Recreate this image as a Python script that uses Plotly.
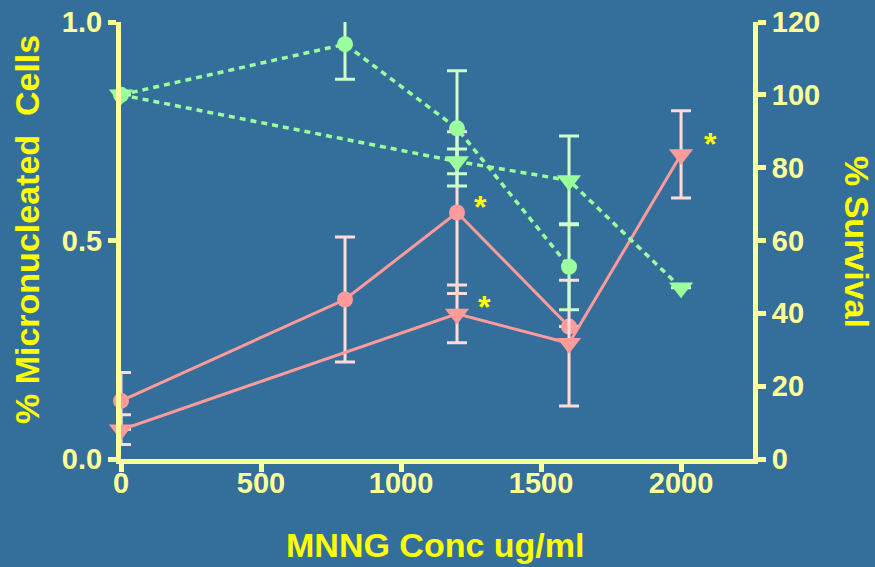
import plotly.graph_objects as go

# ---- data ----
x_circle = [0, 800, 1200, 1600]
mn_circle = [0.133, 0.365, 0.564, 0.303]
mn_circle_err = [0.065, 0.143, 0.185, 0.0]

x_tri = [0, 1200, 1600, 2000]
mn_tri = [0.067, 0.332, 0.265, 0.697]
mn_tri_err = [0.034, 0.066, 0.144, 0.100]

surv_circle = [100, 113.9, 90.8, 52.8]
surv_circle_err = [0, 9.6, 15.8, 11.8]

surv_tri = [100, 81.7, 76.5, 47]
surv_tri_err = [0, 3.4, 12.2, 0]

star_x = [1284, 1298, 2105]
star_y = [0.593, 0.364, 0.737]

x_ticks = [0, 500, 1000, 1500, 2000]
left_ticks = [0.0, 0.5, 1.0]
left_tick_text = ["0.0", "0.5", "1.0"]
right_ticks = [0, 20, 40, 60, 80, 100, 120]

BG = "#346e9b"
AXIS = "#ffff99"
TITLE = "#ffff00"
PINK = "#ff9b9b"
PINK_ERR = "#ffdcdc"
GREEN = "#9bff9b"
GREEN_ERR = "#ccffcc"
FONT = "Liberation Sans, Arial, sans-serif"

fig = go.Figure()

fig.add_trace(go.Scatter(
    x=x_circle, y=mn_circle, mode="lines+markers", yaxis="y",
    line=dict(color=PINK, width=3),
    marker=dict(symbol="circle", size=16, color=PINK),
    error_y=dict(type="data", array=mn_circle_err, color=PINK_ERR, thickness=3, width=10),
    cliponaxis=False, showlegend=False))

fig.add_trace(go.Scatter(
    x=x_tri, y=mn_tri, mode="lines+markers", yaxis="y",
    line=dict(color=PINK, width=3),
    marker=dict(symbol="triangle-down", size=21, color=PINK),
    error_y=dict(type="data", array=mn_tri_err, color=PINK_ERR, thickness=3, width=10),
    cliponaxis=False, showlegend=False))

fig.add_trace(go.Scatter(
    x=x_circle, y=surv_circle, mode="lines+markers", yaxis="y2",
    line=dict(color=GREEN, width=3.5, dash="6px,5px"),
    marker=dict(symbol="circle", size=16, color=GREEN),
    error_y=dict(type="data", array=surv_circle_err, color=GREEN_ERR, thickness=3, width=10),
    cliponaxis=False, showlegend=False))

fig.add_trace(go.Scatter(
    x=x_tri, y=surv_tri, mode="lines+markers", yaxis="y2",
    line=dict(color=GREEN, width=3.5, dash="6px,5px"),
    marker=dict(symbol="triangle-down", size=21, color=GREEN),
    error_y=dict(type="data", array=surv_tri_err, color=GREEN_ERR, thickness=3, width=10),
    cliponaxis=False, showlegend=False))

annotations = []
for sx, sy in zip(star_x, star_y):
    annotations.append(dict(x=sx, y=sy, xref="x", yref="y", text="<b>*</b>",
                            showarrow=False, font=dict(family=FONT, size=32, color=TITLE),
                            yshift=-7))

W, H = 875, 567
ML, MR, MT, MB = 121, 122, 22, 108
pw, ph = W - ML - MR, H - MT - MB

def px_to_paper(px, py):
    return (px - ML) / pw, (H - MB - py) / ph

for text, px, py, ang in [("<b>% Micronucleated  Cells</b>", 27, 230, -90),
                          ("<b>% Survival</b>", 857, 242, 90),
                          ("<b>MNNG Conc ug/ml</b>", 435, 545, 0)]:
    ax_, ay_ = px_to_paper(px, py)
    annotations.append(dict(x=ax_, y=ay_, xref="paper", yref="paper", text=text,
                            xanchor="center", yanchor="middle",
                            showarrow=False, textangle=ang,
                            font=dict(family=FONT, size=34, color=TITLE)))

tickfont = dict(family=FONT, size=29, color=AXIS, weight="bold")

fig.update_layout(
    width=W, height=H,
    margin=dict(l=ML, r=MR, t=MT, b=MB, autoexpand=False),
    paper_bgcolor=BG, plot_bgcolor=BG,
    font=dict(family=FONT),
    xaxis=dict(range=[0, 2257], tickvals=x_ticks, showgrid=False, zeroline=False,
               showline=True, linecolor=AXIS, linewidth=5,
               ticks="outside", ticklen=8, tickwidth=5, tickcolor=AXIS,
               tickfont=tickfont, ticklabelstandoff=-14),
    yaxis=dict(range=[0, 1.0], tickvals=left_ticks, ticktext=left_tick_text,
               showgrid=False, zeroline=False,
               showline=True, linecolor=AXIS, linewidth=5,
               ticks="outside", ticklen=8, tickwidth=5, tickcolor=AXIS,
               tickfont=tickfont),
    yaxis2=dict(range=[0, 120], tickvals=right_ticks, overlaying="y", side="right",
                showgrid=False, zeroline=False,
                showline=True, linecolor=AXIS, linewidth=5,
                ticks="outside", ticklen=8, tickwidth=5, tickcolor=AXIS,
                tickfont=tickfont),
    annotations=annotations,
)

fig.write_html("out.html", config={"displayModeBar": False},
               post_script="document.body.style.margin='0';document.body.style.background='%s';" % BG)
